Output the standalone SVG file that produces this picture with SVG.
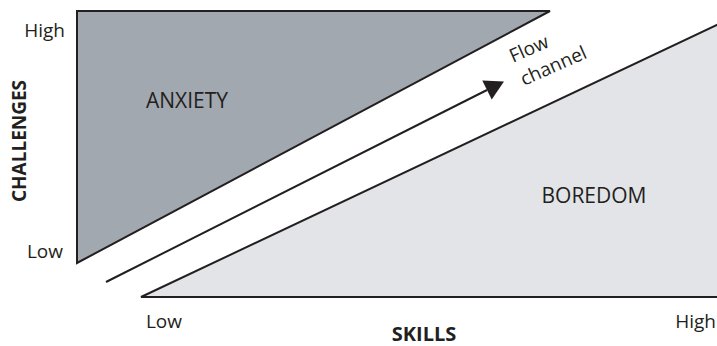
<svg xmlns="http://www.w3.org/2000/svg" width="717" height="346" viewBox="0 0 717 346">
<style>
.t{font-family:"Open Sans","Noto Sans","Liberation Sans",sans-serif;fill:#231f20;font-size:19px}
.b{font-weight:bold}
.region{stroke:#231f20;stroke-width:2;stroke-linejoin:miter}
.lbl{font-size:21px}
</style>
<defs>
<marker id="ah" markerUnits="userSpaceOnUse" markerWidth="24" markerHeight="24" viewBox="-1 -12 22 24" refX="0" refY="0" orient="auto">
<path d="M0,-10.5 L19,0 L0,10.5 Z" fill="#231f20"/>
</marker>
</defs>
<rect width="717" height="346" fill="#ffffff"/>
<g id="anxiety">
<polygon class="region" points="77,11 550,11 77,263" fill="#a2a8af"/>
<text class="t lbl" x="187" y="108" text-anchor="middle">ANXIETY</text>
</g>
<g id="boredom">
<polygon class="region" points="141,297 719,297 719,24" fill="#e2e4e8"/>
<text class="t lbl" x="594" y="203" text-anchor="middle">BOREDOM</text>
</g>
<g id="connectors">
<line x1="106" y1="282" x2="487" y2="90" stroke="#231f20" stroke-width="2" marker-end="url(#ah)"/>
</g>
<g id="flow-label">
<text class="t" transform="translate(513,63) rotate(-24)">Flow</text>
<text class="t" transform="translate(524,86) rotate(-24)">channel</text>
</g>
<g id="y-axis">
<text class="t" x="65" y="37" text-anchor="end">High</text>
<text class="t" x="63" y="258" text-anchor="end">Low</text>
<text class="t b" transform="translate(26,141) rotate(-90)" text-anchor="middle">CHALLENGES</text>
</g>
<g id="x-axis">
<text class="t" x="164" y="328" text-anchor="middle">Low</text>
<text class="t" x="716" y="328" text-anchor="end">High</text>
<text class="t b" x="424" y="341" text-anchor="middle" style="font-size:20px">SKILLS</text>
</g>
</svg>
